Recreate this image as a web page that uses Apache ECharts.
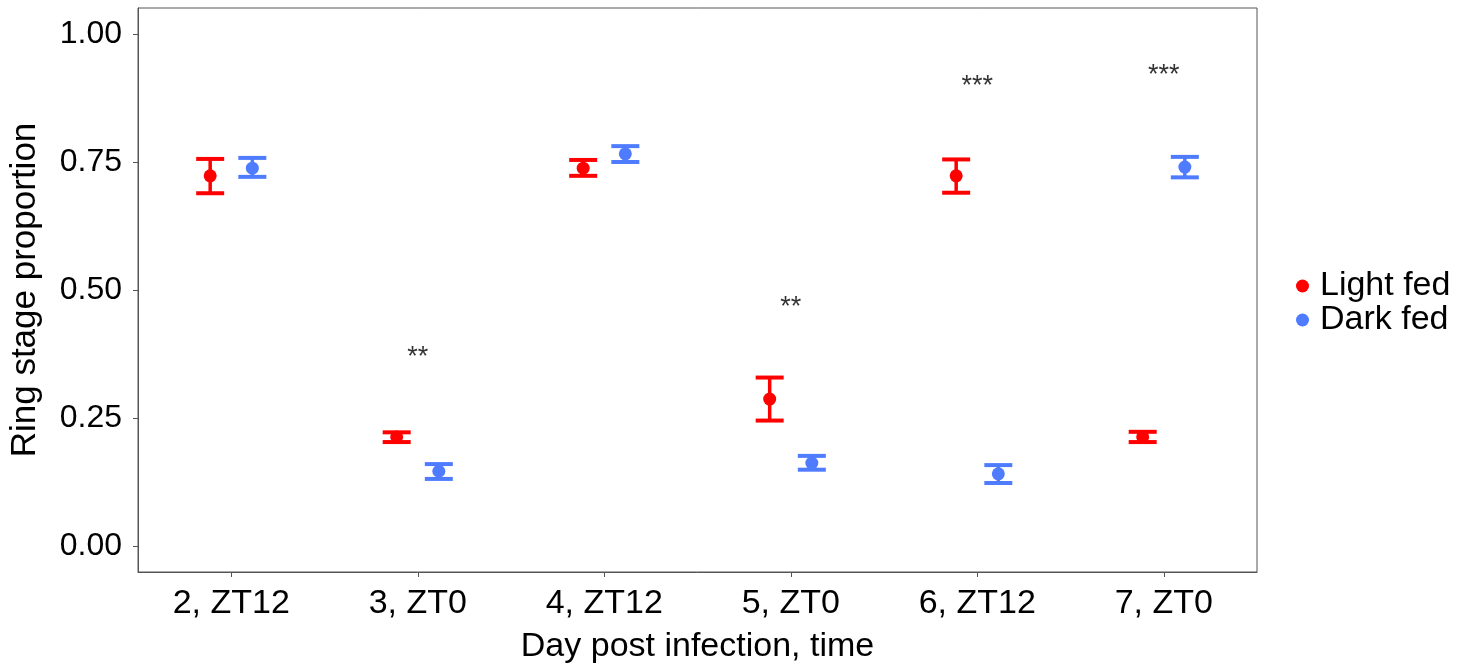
<!DOCTYPE html>
<html>
<head>
<meta charset="utf-8">
<script src="https://cdn.jsdelivr.net/npm/echarts@6/dist/echarts.min.js"></script>
<style>html,body{margin:0;padding:0;background:#fff;}#c{width:1468px;height:663px;}</style>
</head>
<body>
<div id="c"></div>
<script>
const categories = ['2, ZT12', '3, ZT0', '4, ZT12', '5, ZT0', '6, ZT12', '7, ZT0'];
const lightMean = [0.723, 0.213, 0.738, 0.287, 0.723, 0.213];
const lightLow  = [0.689, 0.203, 0.723, 0.245, 0.690, 0.203];
const lightHigh = [0.756, 0.222, 0.754, 0.329, 0.755, 0.223];
const darkMean  = [0.738, 0.146, 0.766, 0.162, 0.141, 0.740];
const darkLow   = [0.721, 0.131, 0.750, 0.149, 0.123, 0.720];
const darkHigh  = [0.758, 0.160, 0.781, 0.176, 0.158, 0.760];
const sigCats   = [1, 3, 4, 5];
const sigY      = [0.369, 0.465, 0.898, 0.918];
const sigText   = ['**', '**', '***', '***'];
const yTicks    = [0, 0.25, 0.5, 0.75, 1.0];

const FONT = 'Liberation Sans, Arial, Helvetica, sans-serif';

function makeData(m, lo, hi) {
  return m.map((v, i) => [i, v, lo[i], hi[i]]);
}
function errRender(sign, color) {
  return function (params, api) {
    const cat = api.value(0);
    const band = api.size([1, 0])[0];
    const off = sign * 0.113 * band;
    const pm = api.coord([cat, api.value(1)]);
    const pl = api.coord([cat, api.value(2)]);
    const ph = api.coord([cat, api.value(3)]);
    const x = pm[0] + off;
    const cap = 14;
    const st = { stroke: color, lineWidth: 4 };
    return {
      type: 'group',
      children: [
        { type: 'line', shape: { x1: x, y1: pl[1], x2: x, y2: ph[1] }, style: { stroke: color, lineWidth: 3.5 } },
        { type: 'line', shape: { x1: x - cap, y1: ph[1], x2: x + cap, y2: ph[1] }, style: st },
        { type: 'line', shape: { x1: x - cap, y1: pl[1], x2: x + cap, y2: pl[1] }, style: st },
        { type: 'circle', shape: { cx: x, cy: pm[1], r: 6.5 }, style: { fill: color } }
      ]
    };
  };
}

const chart = echarts.init(document.getElementById('c'), null, { renderer: 'canvas' });
chart.setOption({
  animation: false,
  backgroundColor: '#fff',
  textStyle: { fontFamily: FONT },
  grid: { left: 138, right: 211, top: 8, bottom: 91, show: true, borderColor: '#555', borderWidth: 1,
    backgroundColor: '#fff', containLabel: false, outerBoundsMode: 'none' },
  legend: {
    orient: 'vertical', left: 1291, top: 264, itemWidth: 13, itemHeight: 13, itemGap: 0,
    data: [{ name: 'Light fed', icon: 'circle' }, { name: 'Dark fed', icon: 'circle' }],
    textStyle: { fontSize: 34, lineHeight: 34, color: '#000', fontFamily: FONT, padding: [0, 0, 0, 6] }
  },
  xAxis: {
    type: 'category', data: categories, boundaryGap: true,
    name: 'Day post infection, time', nameLocation: 'middle', nameGap: 58,
    nameTextStyle: { fontSize: 34, color: '#000', fontFamily: FONT, verticalAlign: 'top' },
    axisLine: { show: true, onZero: false, lineStyle: { color: '#555', width: 1 } },
    axisTick: { show: true, alignWithLabel: true, length: 5, lineStyle: { color: '#555' } },
    axisLabel: { fontSize: 34, color: '#000', margin: 15, fontFamily: FONT },
    splitLine: { show: false }
  },
  yAxis: {
    type: 'value', min: -0.0508, max: 1.0508,
    name: 'Ring stage proportion', nameLocation: 'middle', nameGap: 95,
    nameTextStyle: { fontSize: 35, color: '#000', fontFamily: FONT },
    axisLine: { show: true, onZero: false, lineStyle: { color: '#555', width: 1 } },
    axisTick: { show: true, length: 5, customValues: yTicks, lineStyle: { color: '#555' } },
    axisLabel: { fontSize: 32, color: '#000', margin: 16, fontFamily: FONT, customValues: yTicks,
      formatter: v => Number(v).toFixed(2) },
    splitLine: { show: false }
  },
  series: [
    { name: 'Light fed', type: 'custom', itemStyle: { color: '#ff0000' }, renderItem: errRender(-1, '#ff0000'),
      encode: { x: 0, y: 1 }, data: makeData(lightMean, lightLow, lightHigh) },
    { name: 'Dark fed', type: 'custom', itemStyle: { color: '#4f7cff' }, renderItem: errRender(1, '#4f7cff'),
      encode: { x: 0, y: 1 }, data: makeData(darkMean, darkLow, darkHigh) },
    { name: 'sig', type: 'scatter', symbolSize: 0, silent: true,
      data: sigCats.map((c, i) => [c, sigY[i], sigText[i]]),
      label: { show: true, position: 'inside', formatter: p => p.value[2], fontSize: 27, color: '#000', fontFamily: FONT } }
  ]
});
</script>
</body>
</html>
